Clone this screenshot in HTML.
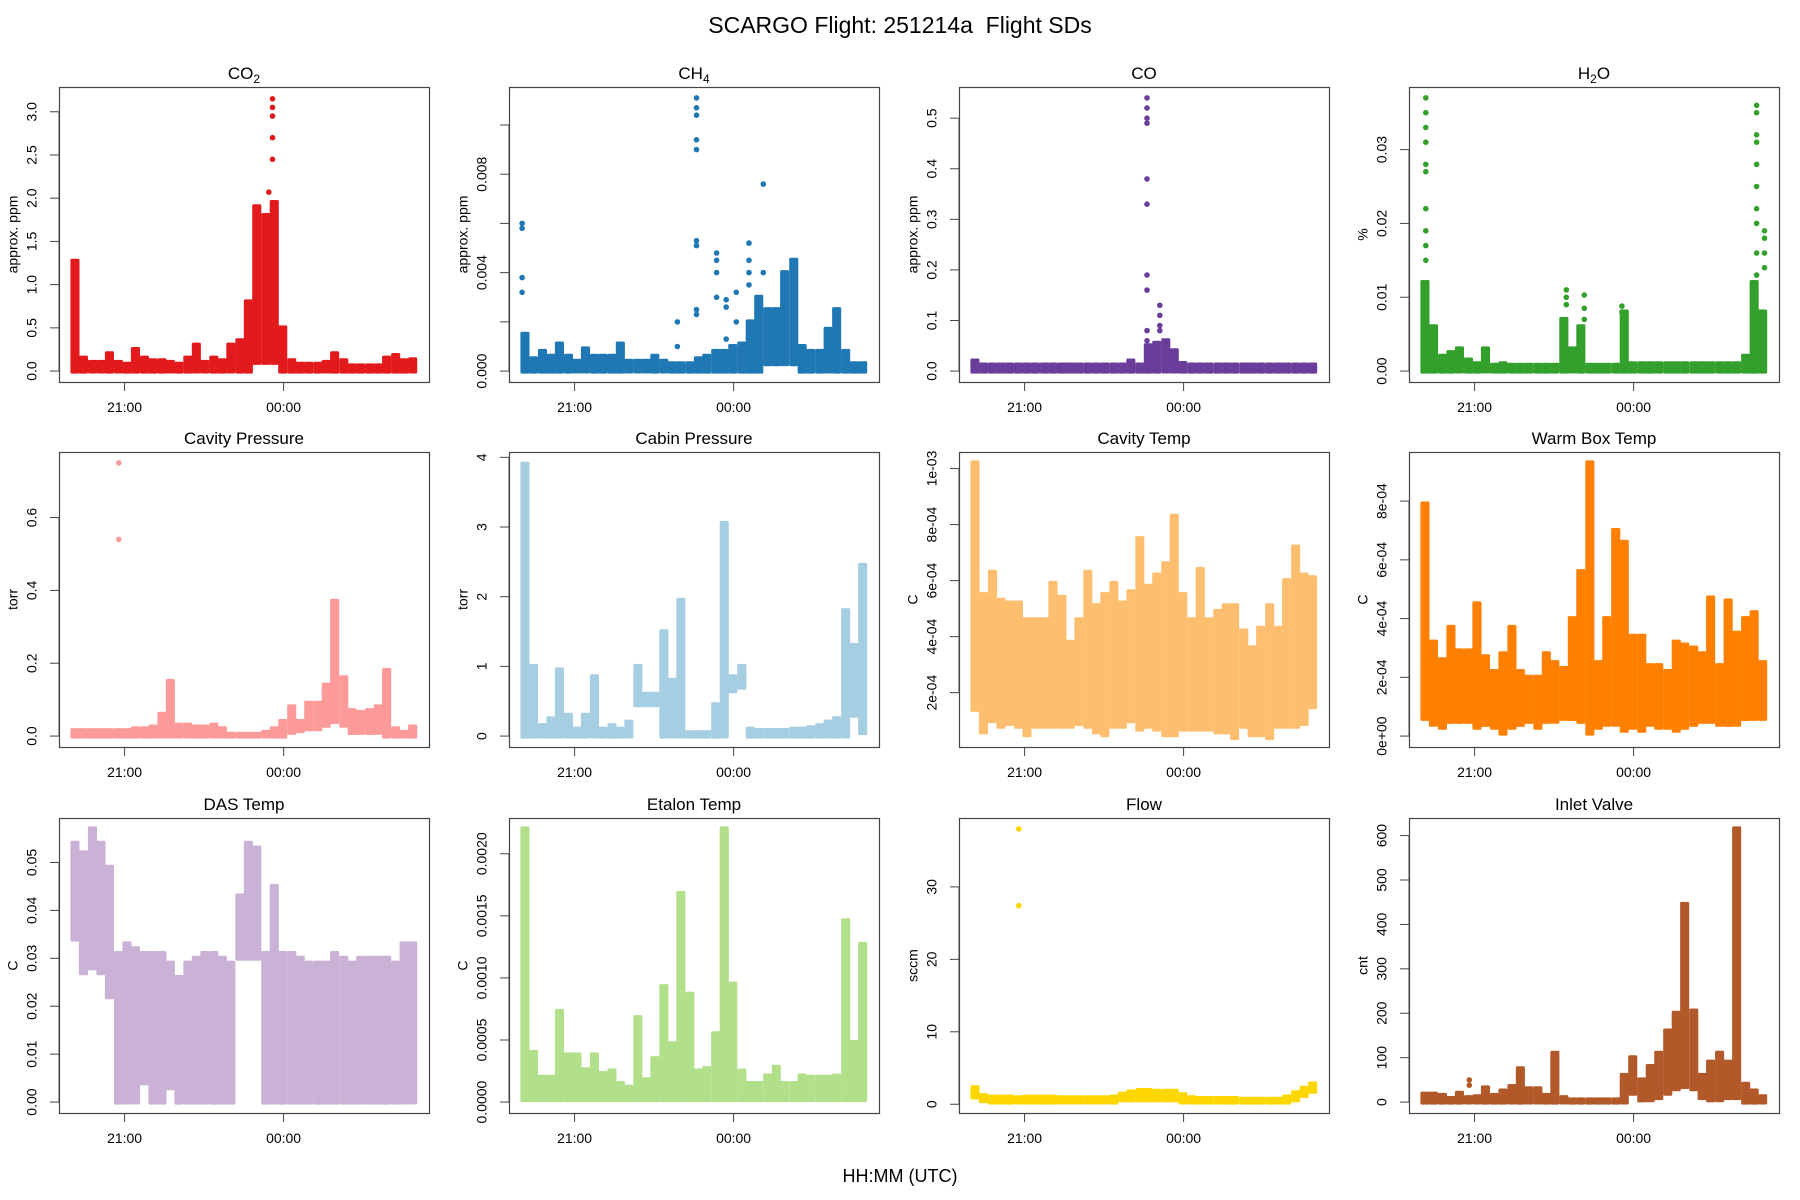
<!DOCTYPE html>
<html><head><meta charset="utf-8">
<style>
html,body{margin:0;padding:0;background:#fff;}
svg{display:block;font-family:"Liberation Sans",sans-serif;}
</style></head>
<body>
<svg id="fig" width="1800" height="1200" viewBox="0 0 1800 1200" xmlns="http://www.w3.org/2000/svg">
<rect width="1800" height="1200" fill="#fff"/>
<text x="900" y="33" text-anchor="middle" font-size="23" fill="#000" style="white-space:pre" xml:space="preserve">SCARGO Flight: 251214a  Flight SDs</text>
<text x="900" y="1182" text-anchor="middle" font-size="18" fill="#000">HH:MM (UTC)</text>
</svg>
<script>
// time bin centers (hours; 24 = 00:00)
const times = [20.06,20.22,20.39,20.55,20.71,20.88,21.04,21.20,21.37,21.53,21.70,21.86,22.02,22.19,22.35,22.51,22.68,22.84,23.00,23.17,23.33,23.49,23.66,23.82,23.98,24.15,24.31,24.47,24.64,24.80,24.96,25.13,25.29,25.45,25.62,25.78,25.94,26.11,26.27,26.43];
const xTickTimes = [21, 24];
const xTickLabels = ["21:00", "00:00"];

const co2Hi = [1.27,0.15,0.10,0.10,0.20,0.10,0.08,0.25,0.15,0.12,0.12,0.10,0.08,0.15,0.30,0.10,0.15,0.12,0.30,0.35,0.80,1.90,1.80,1.95,0.50,0.12,0.08,0.08,0.08,0.10,0.20,0.12,0.06,0.06,0.06,0.06,0.15,0.18,0.12,0.13];
const co2Lo = [0,0,0,0,0,0,0,0,0,0,0,0,0,0,0,0,0,0,0,0,0,0.1,0.1,0.1,0,0,0,0,0,0,0,0,0,0,0,0,0,0,0,0];
const co2OutT = [20.06,20.06,20.06,23.79,23.79,23.79,23.79,23.79,23.72];
const co2OutV = [0.80,0.65,0.45,3.15,3.05,2.95,2.70,2.45,2.07];

const ch4Hi = [0.0015,0.0005,0.0008,0.0006,0.0011,0.0006,0.0004,0.0009,0.0006,0.0006,0.0006,0.0011,0.0004,0.0004,0.0004,0.0006,0.0004,0.0003,0.0003,0.0003,0.0005,0.0006,0.0008,0.0008,0.0010,0.0011,0.0020,0.0030,0.0025,0.0025,0.0040,0.0045,0.0010,0.0008,0.0008,0.0017,0.0025,0.0008,0.0003,0.0003];
const ch4Lo = [0,0,0,0,0,0,0,0,0,0,0,0,0,0,0,0,0,0,0,0,0,0,0,0,0,0,0,0,0.0003,0.0003,0.0003,0.0003,0,0,0,0,0,0,0,0];
const ch4OutT = [23.30,23.30,23.30,23.30,23.30,23.30,23.30,23.30,23.30,20.01,20.01,20.01,20.01,24.56,24.56,23.68,23.68,23.68,23.68,23.86,23.86,23.86,24.05,24.05,22.94,22.94,24.29,24.29,24.29,24.29];
const ch4OutV = [0.0111,0.0107,0.0104,0.0094,0.0090,0.0053,0.0051,0.0025,0.0023,0.0060,0.0058,0.0038,0.0032,0.0076,0.0040,0.0048,0.0045,0.0040,0.0030,0.0029,0.0026,0.0013,0.0032,0.0020,0.0020,0.0010,0.0052,0.0045,0.0040,0.0035];

const coHi = [0.02,0.012,0.012,0.012,0.012,0.012,0.012,0.012,0.012,0.012,0.012,0.012,0.012,0.012,0.012,0.012,0.012,0.012,0.02,0.012,0.05,0.055,0.06,0.04,0.015,0.012,0.012,0.012,0.012,0.012,0.012,0.012,0.012,0.012,0.012,0.012,0.012,0.012,0.012,0.012];
const coLo = [0,0,0,0,0,0,0,0,0,0,0,0,0,0,0,0,0,0,0,0,0,0,0,0,0,0,0,0,0,0,0,0,0,0,0,0,0,0,0,0];
const coOutT = [23.31,23.31,23.31,23.31,23.31,23.31,23.31,23.31,23.31,23.31,23.55,23.55,23.55,23.55];
const coOutV = [0.54,0.52,0.50,0.49,0.38,0.33,0.19,0.16,0.08,0.06,0.13,0.11,0.09,0.08];

const h2oHi = [0.012,0.006,0.002,0.0025,0.003,0.0015,0.001,0.003,0.0008,0.001,0.0008,0.0008,0.0008,0.0008,0.0008,0.0008,0.007,0.003,0.006,0.0008,0.0008,0.0008,0.0008,0.008,0.001,0.001,0.001,0.001,0.001,0.001,0.001,0.001,0.001,0.001,0.001,0.001,0.001,0.002,0.012,0.008];
const h2oLo = [0,0,0,0,0,0,0,0,0,0,0,0,0,0,0,0,0,0,0,0,0,0,0,0,0,0,0,0,0,0,0,0,0,0,0,0,0,0,0,0];
const h2oOutT = [20.08,20.08,20.08,20.08,20.08,20.08,20.08,20.08,20.08,20.08,26.32,26.32,26.32,26.32,26.32,26.32,26.32,26.32,26.32,26.32,26.47,26.47,26.47,26.47,22.73,22.73,22.73,23.07,23.07,23.07,23.78,23.78];
const h2oOutV = [0.037,0.035,0.033,0.031,0.028,0.027,0.022,0.019,0.017,0.015,0.036,0.035,0.032,0.031,0.028,0.025,0.022,0.020,0.016,0.013,0.019,0.018,0.016,0.014,0.011,0.010,0.009,0.0103,0.0085,0.007,0.0088,0.008];

const cavPHi = [0.015,0.015,0.015,0.015,0.015,0.015,0.015,0.02,0.02,0.025,0.06,0.15,0.03,0.03,0.025,0.025,0.03,0.02,0.005,0.005,0.005,0.005,0.01,0.02,0.04,0.08,0.04,0.09,0.09,0.14,0.37,0.16,0.07,0.065,0.07,0.08,0.18,0.02,0.01,0.025];
const cavPLo = [0,0,0,0,0,0,0,0,0,0,0,0,0,0,0,0,0,0,0,0,0,0,0,0,0,0.01,0.015,0.02,0.02,0.03,0.04,0.03,0.01,0.01,0.01,0.01,0,0,0,0];
const cavPOutT = [20.89,20.89];
const cavPOutV = [0.75,0.54];

const cabinHi = [3.9,1.0,0.15,0.25,0.95,0.3,0.1,0.3,0.85,0.1,0.15,0.1,0.2,1.0,0.6,0.6,1.5,0.8,1.95,0.05,0.05,0.05,0.45,3.05,0.85,1.0,0.1,0.08,0.08,0.08,0.08,0.1,0.1,0.12,0.15,0.2,0.25,1.8,1.3,2.45];
const cabinLo = [0,0,0,0,0,0,0,0,0,0,0,0,0,0.45,0.45,0.45,0,0,0,0,0,0,0,0,0.65,0.7,0,0,0,0,0,0,0,0,0,0,0,0,0.3,0.05];

const cavTHi = [10.2e-4,5.5e-4,6.3e-4,5.3e-4,5.2e-4,5.2e-4,4.6e-4,4.6e-4,4.6e-4,5.9e-4,5.4e-4,3.8e-4,4.6e-4,6.3e-4,5.1e-4,5.5e-4,5.9e-4,5.2e-4,5.6e-4,7.5e-4,5.8e-4,6.2e-4,6.6e-4,8.3e-4,5.5e-4,4.6e-4,6.4e-4,4.6e-4,4.9e-4,5.1e-4,5.1e-4,4.2e-4,3.6e-4,4.3e-4,5.1e-4,4.3e-4,6.0e-4,7.2e-4,6.2e-4,6.1e-4];
const cavTLo = [1.4e-4,0.6e-4,1.0e-4,0.8e-4,0.9e-4,0.8e-4,0.5e-4,0.8e-4,0.8e-4,0.8e-4,0.8e-4,0.8e-4,0.9e-4,0.8e-4,0.6e-4,0.5e-4,0.8e-4,0.8e-4,1.0e-4,0.7e-4,0.8e-4,0.7e-4,0.5e-4,0.5e-4,0.7e-4,0.7e-4,0.7e-4,0.7e-4,0.6e-4,0.6e-4,0.4e-4,0.8e-4,0.5e-4,0.5e-4,0.4e-4,0.8e-4,0.8e-4,0.8e-4,0.9e-4,1.5e-4];

const warmHi = [7.9e-4,3.2e-4,2.6e-4,3.7e-4,2.9e-4,2.9e-4,4.5e-4,2.7e-4,2.2e-4,2.8e-4,3.7e-4,2.2e-4,2.0e-4,2.0e-4,2.8e-4,2.5e-4,2.3e-4,4.0e-4,5.6e-4,9.3e-4,2.5e-4,4.0e-4,7.0e-4,6.6e-4,3.4e-4,3.4e-4,2.4e-4,2.4e-4,2.2e-4,3.2e-4,3.1e-4,3.0e-4,2.8e-4,4.7e-4,2.4e-4,4.6e-4,3.5e-4,4.0e-4,4.2e-4,2.5e-4];
const warmLo = [0.6e-4,0.4e-4,0.3e-4,0.5e-4,0.5e-4,0.5e-4,0.3e-4,0.4e-4,0.3e-4,0.1e-4,0.3e-4,0.4e-4,0.5e-4,0.3e-4,0.5e-4,0.5e-4,0.6e-4,0.6e-4,0.5e-4,0.1e-4,0.3e-4,0.4e-4,0.4e-4,0.2e-4,0.3e-4,0.2e-4,0.4e-4,0.3e-4,0.3e-4,0.2e-4,0.3e-4,0.4e-4,0.5e-4,0.5e-4,0.4e-4,0.4e-4,0.4e-4,0.6e-4,0.6e-4,0.6e-4];

const dasHi = [0.054,0.052,0.057,0.054,0.049,0.031,0.033,0.032,0.031,0.031,0.031,0.029,0.026,0.029,0.030,0.031,0.031,0.030,0.029,0.043,0.054,0.053,0.031,0.045,0.031,0.031,0.030,0.029,0.029,0.029,0.031,0.030,0.029,0.030,0.030,0.030,0.030,0.029,0.033,0.033];
const dasLo = [0.034,0.027,0.028,0.027,0.022,0,0,0,0.004,0,0,0.003,0,0,0,0,0,0,0,0.03,0.03,0.03,0,0,0,0,0,0,0,0,0,0,0,0,0,0,0,0,0,0];

const etalonHi = [22e-4,4e-4,2e-4,2e-4,7.3e-4,3.8e-4,3.8e-4,2.6e-4,3.8e-4,2.3e-4,2.5e-4,1.5e-4,1.2e-4,6.8e-4,1.8e-4,3.5e-4,9.3e-4,4.7e-4,16.8e-4,8.7e-4,2.5e-4,2.7e-4,5.5e-4,22e-4,9.5e-4,2.5e-4,1.5e-4,1.5e-4,2.1e-4,2.8e-4,1.5e-4,1.5e-4,2.1e-4,2.0e-4,2.0e-4,2.0e-4,2.1e-4,14.6e-4,4.8e-4,12.7e-4];
const etalonLo = [0.2e-4,0.2e-4,0.2e-4,0.2e-4,0.2e-4,0.2e-4,0.2e-4,0.2e-4,0.2e-4,0.2e-4,0.2e-4,0.2e-4,0.2e-4,0.2e-4,0.2e-4,0.2e-4,0.2e-4,0.2e-4,0.2e-4,0.2e-4,0.2e-4,0.2e-4,0.2e-4,0.2e-4,0.2e-4,0.2e-4,0.2e-4,0.2e-4,0.2e-4,0.2e-4,0.2e-4,0.2e-4,0.2e-4,0.2e-4,0.2e-4,0.2e-4,0.2e-4,0.2e-4,0.2e-4,0.2e-4];

const flowHi = [2.3,1.2,1.0,1.0,1.0,0.9,1.0,1.0,1.0,1.0,0.9,0.9,0.9,0.9,0.9,0.9,1.0,1.4,1.7,1.9,1.9,1.8,1.8,1.8,1.3,0.9,0.8,0.8,0.8,0.8,0.8,0.7,0.7,0.7,0.7,0.7,1.0,1.6,2.2,2.8];
const flowLo = [1.0,0.5,0.3,0.3,0.3,0.3,0.3,0.3,0.3,0.3,0.3,0.3,0.3,0.3,0.3,0.3,0.3,0.6,0.6,0.6,0.6,0.6,0.6,0.6,0.3,0.3,0.3,0.3,0.3,0.3,0.3,0.3,0.3,0.3,0.3,0.3,0.3,0.6,1.2,1.8];
const flowOutT = [20.89,20.89];
const flowOutV = [38,27.4];

const inletHi = [18,18,15,8,20,10,12,32,15,25,35,75,30,30,15,110,10,5,5,5,5,5,5,60,100,50,80,110,160,200,445,205,60,90,110,90,615,40,25,12];
const inletLo = [0,0,0,0,0,0,0,0,0,0,0,0,0,0,0,0,0,0,0,0,0,0,0,0,20,5,5,10,20,30,35,30,10,5,5,10,10,0,0,0];
const inletOutT = [20.90,20.90];
const inletOutV = [50,38];

const co2Ticks=[0,0.5,1,1.5,2,2.5,3], co2TickLabels=["0.0","0.5","1.0","1.5","2.0","2.5","3.0"];
const ch4Ticks=[0,0.002,0.004,0.006,0.008,0.010], ch4TickLabels=["0.000","","0.004","","0.008",""];
const coTicks=[0,0.1,0.2,0.3,0.4,0.5], coTickLabels=["0.0","0.1","0.2","0.3","0.4","0.5"];
const h2oTicks=[0,0.01,0.02,0.03], h2oTickLabels=["0.00","0.01","0.02","0.03"];
const cavPTicks=[0,0.2,0.4,0.6], cavPTickLabels=["0.0","0.2","0.4","0.6"];
const cabinTicks=[0,1,2,3,4], cabinTickLabels=["0","1","2","3","4"];
const cavTTicks=[2e-4,4e-4,6e-4,8e-4,1e-3], cavTTickLabels=["2e-04","4e-04","6e-04","8e-04","1e-03"];
const warmTicks=[0,2e-4,4e-4,6e-4,8e-4], warmTickLabels=["0e+00","2e-04","4e-04","6e-04","8e-04"];
const dasTicks=[0,0.01,0.02,0.03,0.04,0.05], dasTickLabels=["0.00","0.01","0.02","0.03","0.04","0.05"];
const etalonTicks=[0,0.0005,0.001,0.0015,0.002], etalonTickLabels=["0.0000","0.0005","0.0010","0.0015","0.0020"];
const flowTicks=[0,10,20,30], flowTickLabels=["0","10","20","30"];
const inletTicks=[0,100,200,300,400,500,600], inletTickLabels=["0","100","200","300","400","500","600"];

const panels = [
 {key:"co2",title:["CO","2"],ylab:"approx. ppm",color:"#E31A1C",ymin:0,ymax:3.16,hi:co2Hi,lo:co2Lo,ot:co2OutT,ov:co2OutV,ticks:co2Ticks,tl:co2TickLabels},
 {key:"ch4",title:["CH","4"],ylab:"approx. ppm",color:"#1F78B4",ymin:0,ymax:0.0111,hi:ch4Hi,lo:ch4Lo,ot:ch4OutT,ov:ch4OutV,ticks:ch4Ticks,tl:ch4TickLabels},
 {key:"co",title:["CO",""],ylab:"approx. ppm",color:"#6A3D9A",ymin:0,ymax:0.54,hi:coHi,lo:coLo,ot:coOutT,ov:coOutV,ticks:coTicks,tl:coTickLabels},
 {key:"h2o",title:["H","2","O"],ylab:"%",color:"#33A02C",ymin:0,ymax:0.037,hi:h2oHi,lo:h2oLo,ot:h2oOutT,ov:h2oOutV,ticks:h2oTicks,tl:h2oTickLabels},
 {key:"cavity-pressure",title:["Cavity Pressure"],ylab:"torr",color:"#FB9A99",ymin:0,ymax:0.75,hi:cavPHi,lo:cavPLo,ot:cavPOutT,ov:cavPOutV,ticks:cavPTicks,tl:cavPTickLabels},
 {key:"cabin-pressure",title:["Cabin Pressure"],ylab:"torr",color:"#A6CEE3",ymin:0,ymax:3.92,hi:cabinHi,lo:cabinLo,ot:[],ov:[],ticks:cabinTicks,tl:cabinTickLabels},
 {key:"cavity-temp",title:["Cavity Temp"],ylab:"C",color:"#FDBF6F",ymin:0.45e-4,ymax:10.2e-4,hi:cavTHi,lo:cavTLo,ot:[],ov:[],ticks:cavTTicks,tl:cavTTickLabels},
 {key:"warm-box-temp",title:["Warm Box Temp"],ylab:"C",color:"#FF7F00",ymin:0,ymax:9.3e-4,hi:warmHi,lo:warmLo,ot:[],ov:[],ticks:warmTicks,tl:warmTickLabels},
 {key:"das-temp",title:["DAS Temp"],ylab:"C",color:"#CAB2D6",ymin:0,ymax:0.057,hi:dasHi,lo:dasLo,ot:[],ov:[],ticks:dasTicks,tl:dasTickLabels},
 {key:"etalon-temp",title:["Etalon Temp"],ylab:"C",color:"#B2DF8A",ymin:0,ymax:0.0022,hi:etalonHi,lo:etalonLo,ot:[],ov:[],ticks:etalonTicks,tl:etalonTickLabels},
 {key:"flow",title:["Flow"],ylab:"sccm",color:"#FFD700",ymin:0.3,ymax:38,hi:flowHi,lo:flowLo,ot:flowOutT,ov:flowOutV,ticks:flowTicks,tl:flowTickLabels},
 {key:"inlet-valve",title:["Inlet Valve"],ylab:"cnt",color:"#B15928",ymin:0,ymax:615,hi:inletHi,lo:inletLo,ot:inletOutT,ov:inletOutV,ticks:inletTicks,tl:inletTickLabels}
];

const NS = "http://www.w3.org/2000/svg";
const svg = document.getElementById("fig");
function mk(tag, attrs, parent){
  const e = document.createElementNS(NS, tag);
  for (const k in attrs) e.setAttribute(k, attrs[k]);
  (parent||svg).appendChild(e);
  return e;
}
const colLeft = [59,509,959,1409], rowTop = [87,452,818];
const W = 370, H = 295;
const DT = 0.1636;

panels.forEach((p, idx) => {
  const L = colLeft[idx % 4], T = rowTop[Math.floor(idx / 4)];
  const g = mk("g", {});
  
  
  const xs = t => L + 65.6 + (t - 21) * 53;
  const pad = H * 0.04 / 1.08;
  const ys = v => (T + H - pad) - (v - p.ymin) / (p.ymax - p.ymin) * (H - 2 * pad);

  const dg = mk("g", {fill: p.color}, g);
  
  
  times.forEach((t, i) => {
    const x0 = xs(t - DT / 2), x1 = xs(t + DT / 2);
    const yTop = ys(p.hi[i]) - 2.5, yBot = ys(p.lo[i]) + 2.5;
    const r = mk("rect", {x: x0.toFixed(1), y: yTop.toFixed(1), width: (x1 - x0 + 0.4).toFixed(1), height: Math.max(2, yBot - yTop).toFixed(1), rx: 1.5}, dg);
    
    
  });
  p.ot.forEach((t, i) => {
    const c = mk("circle", {cx: xs(t).toFixed(1), cy: ys(p.ov[i]).toFixed(1), r: 2.8}, dg);
    
    
  });

  const box = mk("rect", {x: L + 0.5, y: T + 0.5, width: W, height: H, fill: "none", stroke: "#444", "stroke-width": 1.2}, g);
  
  

  const tt = mk("text", {x: L + W / 2, y: T - 8, "text-anchor": "middle", "font-size": 17, fill: "#000"}, g);
  
  
  tt.appendChild(document.createTextNode(p.title[0]));
  if (p.title.length > 1 && p.title[1]) {
    const s = mk("tspan", {"font-size": 12, dy: 4}, tt);
    s.textContent = p.title[1];
    if (p.title[2]) { const s2 = mk("tspan", {dy: -4}, tt); s2.textContent = p.title[2]; }
  }

  const yl = ys(p.ticks[0]), yh = ys(p.ticks[p.ticks.length - 1]);
  const ax = mk("line", {x1: L, x2: L, y1: yl, y2: yh, stroke: "#444"}, g);
  
  
  p.ticks.forEach((v, i) => {
    const y = ys(v);
    const tk = mk("line", {x1: L - 9, x2: L, y1: y, y2: y, stroke: "#444"}, g);
    
    
    if (p.tl[i]) {
      const lb = mk("text", {x: 0, y: 0, transform: `translate(${L - 26},${y}) rotate(-90)`, "text-anchor": "middle", "dominant-baseline": "middle", "font-size": 14, fill: "#000"}, g);
      
      
      lb.textContent = p.tl[i];
    }
  });
  const ylb = mk("text", {x: 0, y: 0, transform: `translate(${L - 45},${T + H / 2}) rotate(-90)`, "text-anchor": "middle", "dominant-baseline": "middle", "font-size": 14, fill: "#000"}, g);
  
  
  ylb.textContent = p.ylab;

  xTickTimes.forEach((t, i) => {
    const x = xs(t);
    const tk = mk("line", {x1: x, x2: x, y1: T + H, y2: T + H + 9, stroke: "#444"}, g);
    
    
    const lb = mk("text", {x: x, y: T + H + 30, "text-anchor": "middle", "font-size": 14, fill: "#000"}, g);
    
    
    lb.textContent = xTickLabels[i];
  });
});
</script>
</body></html>
